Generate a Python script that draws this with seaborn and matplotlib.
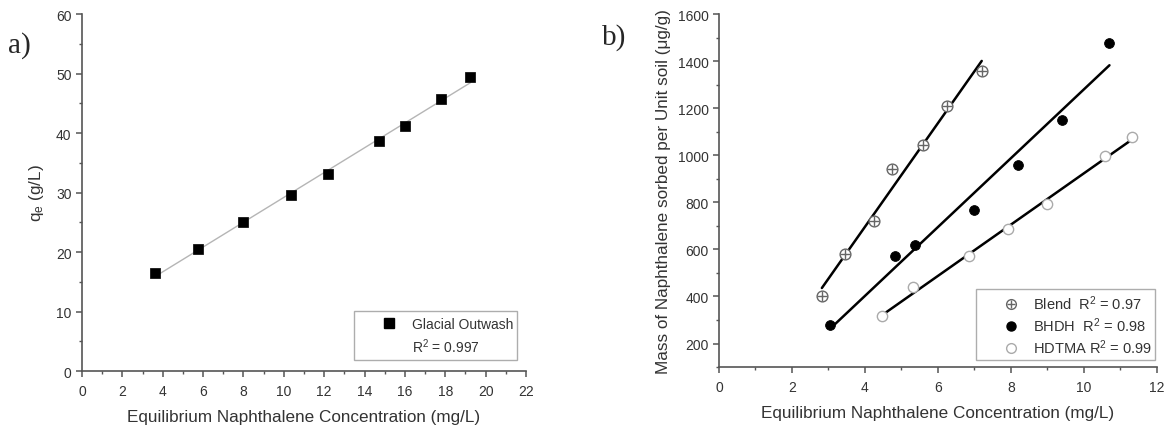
import numpy as np
import pandas as pd
import matplotlib
matplotlib.use('Agg')
import matplotlib.pyplot as plt
from matplotlib.lines import Line2D
from matplotlib.legend_handler import HandlerTuple
from matplotlib.ticker import MultipleLocator
import seaborn as sns

# panel a) glacial outwash
conc_a = [3.63, 5.76, 7.99, 10.34, 12.21, 14.70, 16.02, 17.80, 19.25]
qe_a = [16.4, 20.5, 25.0, 29.6, 33.1, 38.7, 41.1, 45.7, 49.4]

# panel b) three soils
blend_x = [2.82, 3.44, 4.26, 4.74, 5.58, 6.24, 7.20]
blend_y = [401, 581, 720, 940, 1044, 1210, 1359]
bhdh_x = [3.05, 4.82, 5.38, 6.99, 8.19, 9.40, 10.70]
bhdh_y = [277, 572, 617, 767, 960, 1150, 1477]
hdtma_x = [4.48, 5.33, 6.84, 7.92, 8.98, 10.59, 11.33]
hdtma_y = [316, 440, 572, 685, 791, 997, 1079]

sns.set_style('ticks')
plt.rcParams['font.family'] = ['Liberation Sans', 'DejaVu Sans']
plt.rcParams['mathtext.fontset'] = 'custom'
plt.rcParams['mathtext.rm'] = 'Liberation Sans'
plt.rcParams['mathtext.it'] = 'Liberation Sans'

axis_col = '#555555'
txt_col = '#333333'

fig = plt.figure(figsize=(11.66, 4.27), dpi=100)
ax1 = fig.add_axes([0.0703, 0.1288, 0.3808, 0.836])
ax2 = fig.add_axes([0.6166, 0.138, 0.3756, 0.8267])

def style_axes(ax):
    sns.despine(ax=ax)
    for s in ['left', 'bottom']:
        ax.spines[s].set_color(axis_col)
        ax.spines[s].set_linewidth(1.2)
    ax.tick_params(which='major', direction='out', length=4, width=1.1,
                   color=axis_col, labelsize=10, labelcolor=txt_col)
    ax.tick_params(axis='x', which='major', pad=5.5)
    ax.tick_params(which='minor', direction='out', length=2.5, width=1.0,
                   color=axis_col)

# ---- a)
df_a = pd.DataFrame({'x': conc_a, 'y': qe_a})
sns.regplot(data=df_a, x='x', y='y', ax=ax1, ci=None, scatter=False,
            line_kws={'color': '#b5b5b5', 'lw': 1.0})
sns.scatterplot(data=df_a, x='x', y='y', ax=ax1, marker='s', s=50,
                color='black', edgecolor='black', linewidth=0.5, zorder=3)
ax1.set_xlim(0, 22)
ax1.set_ylim(0, 60)
ax1.xaxis.set_major_locator(MultipleLocator(2))
ax1.xaxis.set_minor_locator(MultipleLocator(1))
ax1.yaxis.set_major_locator(MultipleLocator(10))
ax1.yaxis.set_minor_locator(MultipleLocator(5))
style_axes(ax1)
ax1.set_xlabel('Equilibrium Naphthalene Concentration (mg/L)', fontsize=12.3,
               color=txt_col, labelpad=8)
ax1.set_ylabel('q$_e$ (g/L)', fontsize=12.3, color=txt_col, labelpad=7)

h_sq = Line2D([], [], marker='s', ls='none', color='black', markersize=7)
h_blank = Line2D([], [], ls='none', marker=None)
leg1 = ax1.legend([h_sq, h_blank], ['Glacial Outwash', 'R$^2$ = 0.997'],
                  loc='lower left', bbox_to_anchor=(0.612, 0.03, 0.368, 0.14),
                  mode='expand', fontsize=10, frameon=True, fancybox=False,
                  edgecolor='#999999', borderpad=0.4, labelspacing=0.4,
                  handlelength=4.3, handletextpad=-0.5, borderaxespad=0)
leg1.get_frame().set_linewidth(1.0)
for t in leg1.get_texts():
    t.set_color(txt_col)

# ---- b)
fit_kw = {'color': 'black', 'lw': 1.8}
for xs, ys in [(blend_x, blend_y), (bhdh_x, bhdh_y), (hdtma_x, hdtma_y)]:
    sns.regplot(x=np.array(xs), y=np.array(ys), ax=ax2, ci=None, scatter=False,
                line_kws=fit_kw)

sns.scatterplot(x=blend_x, y=blend_y, ax=ax2, marker='o', s=60,
                facecolor='white', edgecolor='#666666', linewidth=1.0, zorder=3)
sns.scatterplot(x=blend_x, y=blend_y, ax=ax2, marker='+', s=45,
                color='#666666', linewidth=1.0, zorder=4)
sns.scatterplot(x=bhdh_x, y=bhdh_y, ax=ax2, marker='o', s=50,
                color='black', edgecolor='black', zorder=3)
sns.scatterplot(x=hdtma_x, y=hdtma_y, ax=ax2, marker='o', s=55,
                facecolor='white', edgecolor='#aaaaaa', linewidth=1.0, zorder=3)

ax2.set_xlim(0, 12)
ax2.set_ylim(100, 1600)
ax2.xaxis.set_major_locator(MultipleLocator(2))
ax2.xaxis.set_minor_locator(MultipleLocator(1))
ax2.set_yticks(range(200, 1601, 200))
ax2.yaxis.set_minor_locator(MultipleLocator(100))
style_axes(ax2)
ax2.set_xlabel('Equilibrium Naphthalene Concentration (mg/L)', fontsize=12.3,
               color=txt_col, labelpad=8)
ax2.set_ylabel('Mass of Naphthalene sorbed per Unit soil (\u03bcg/g)', fontsize=12.3,
               color=txt_col, labelpad=5)

h_blend = (Line2D([], [], marker='o', ls='none', markerfacecolor='white',
                  markeredgecolor='#666666', markersize=7),
           Line2D([], [], marker='+', ls='none', color='#666666', markersize=6))
h_bhdh = Line2D([], [], marker='o', ls='none', color='black', markersize=6.5)
h_hdtma = Line2D([], [], marker='o', ls='none', markerfacecolor='white',
                 markeredgecolor='#aaaaaa', markersize=7)
leg2 = ax2.legend([h_blend, h_bhdh, h_hdtma],
                  ['Blend  R$^2$ = 0.97', 'BHDH  R$^2$ = 0.98', 'HDTMA R$^2$ = 0.99'],
                  handler_map={tuple: HandlerTuple(ndivide=1)},
                  loc='lower left', bbox_to_anchor=(0.588, 0.02, 0.408, 0.19),
                  mode='expand', fontsize=10.5, frameon=True, fancybox=False,
                  edgecolor='#999999', borderpad=0.3, labelspacing=0.22,
                  handlelength=4.1, handletextpad=-0.5, borderaxespad=0)
leg2.get_frame().set_linewidth(1.0)
for t in leg2.get_texts():
    t.set_color(txt_col)

fig.text(0.007, 0.893, 'a)', fontsize=21, family='Liberation Serif', va='center')
fig.text(0.516, 0.913, 'b)', fontsize=21, family='Liberation Serif', va='center')

fig.savefig('out.png', dpi=100)
